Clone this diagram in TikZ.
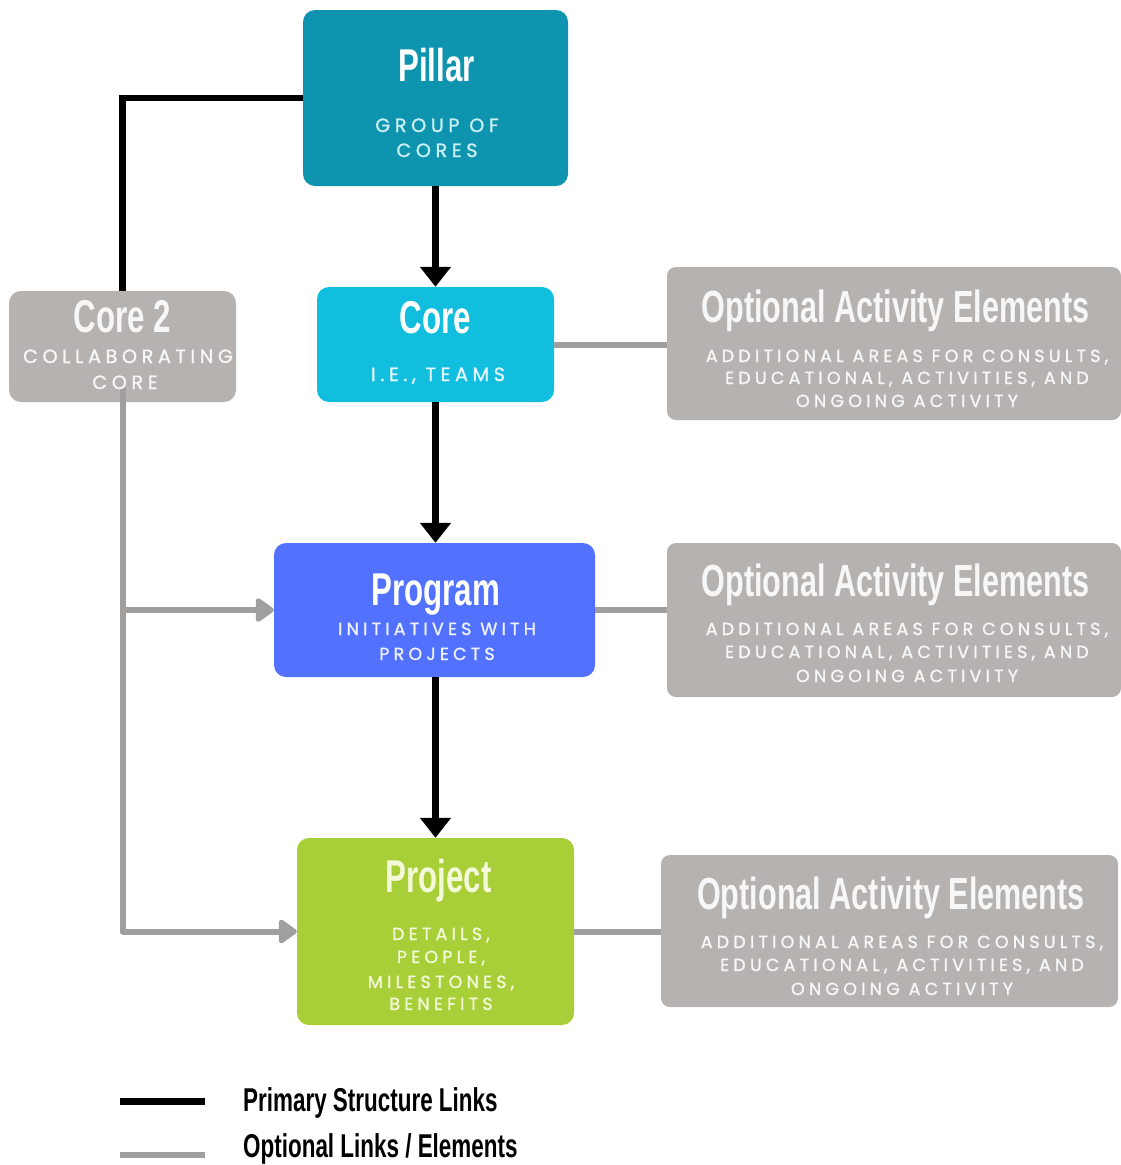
\documentclass[tikz,border=0pt]{standalone}
\usepackage{fontspec}
\usetikzlibrary{arrows.meta}
\newfontfamily\condfont{Liberation Sans}[FakeStretch=0.68]
\newfontfamily\capsfont{Poppins}[LetterSpace=24,FakeBold=1.2]
\definecolor{pillarc}{HTML}{0F94AF}
\definecolor{corec}{HTML}{12BEDD}
\definecolor{progc}{HTML}{5271FF}
\definecolor{projc}{HTML}{A8CE38}
\definecolor{boxgray}{HTML}{B5B2B0}
\definecolor{linegray}{HTML}{A19F9E}
\definecolor{pillsub}{HTML}{C9F0F3}
\definecolor{coresub}{HTML}{E2F9FF}
\definecolor{progsub}{HTML}{EEF1FF}
\definecolor{projtxt}{HTML}{F4FAD9}
\definecolor{graytxt}{HTML}{F7F7F7}
\begin{document}
\begin{tikzpicture}[x=1pt,y=-1pt,
  box/.style={rounded corners=12pt, inner sep=0pt, draw=none},
  obox/.style={box, fill=boxgray, rounded corners=9pt, minimum height=153pt},
  ttl/.style={font=\condfont\bfseries\fontsize{46}{46}\selectfont, text=white, anchor=base, inner sep=0pt},
  ottl/.style={font=\condfont\bfseries\fontsize{45}{45}\selectfont, text=graytxt, anchor=base, inner sep=0pt},
  leg/.style={font=\condfont\bfseries\fontsize{33}{33}\selectfont, text=black, anchor=base west, inner sep=0pt},
  subl/.style={font=\capsfont\fontsize{19.2}{19.2}\selectfont, anchor=base, inner sep=0pt},
  subs/.style={font=\capsfont\fontsize{17.5}{17.5}\selectfont, anchor=base, inner sep=0pt},
  prim/.style={line width=6.5pt, draw=black},
  primarrow/.style={prim, -{Triangle[length=20pt,width=30pt]}},
  optl/.style={line width=6pt, draw=linegray, line join=round},
  optarrow/.style={optl, -{Triangle[length=20pt,width=27pt,round]}}
]
\useasboundingbox (0,0) rectangle (1121,1165);
\fill[white] (0,0) rectangle (1121,1165);

% boxes
\node[box, fill=pillarc, minimum width=265pt, minimum height=176pt] (pillar) at (435.5,98) {};
\node[box, fill=corec, minimum width=237pt, minimum height=115pt] (core) at (435.5,344.5) {};
\node[box, fill=boxgray, minimum width=227pt, minimum height=111pt] (core2) at (122.5,346.5) {};
\node[box, fill=progc, minimum width=321pt, minimum height=134pt] (program) at (434.5,610) {};
\node[box, fill=projc, minimum width=277pt, minimum height=187pt] (project) at (435.5,931.5) {};
\node[obox, minimum width=454pt] (opt1) at (894,343.5) {};
\node[obox, minimum width=454pt, minimum height=154pt] (opt2) at (894,620) {};
\node[obox, minimum width=457pt, minimum height=152pt] (opt3) at (889.5,931) {};

% primary connectors
\draw[prim] (pillar.west) -| (core2.north);
\draw[primarrow] (pillar.south) -- (core.north);
\draw[primarrow] (core.south) -- (core.south |- program.north);
\draw[primarrow] (project.north |- program.south) -- (project.north);

% optional connectors
\coordinate (c2s) at ([yshift=14pt]core2.south);
\coordinate (j1) at (core2.south |- program.west);
\coordinate (j2) at (core2.south |- project.west);
\draw[optarrow] (c2s) -- (j2) -- (project.west);
\draw[optarrow] (j1) -- (program.west);
\draw[optl] (core.east) -- (core.east -| opt1.west);
\draw[optl] (program.east) -- (program.east -| opt2.west);
\draw[optl] (project.east) -- (project.east -| opt3.west);

% titles
\node[ttl] (tpillar) at (436.5,81) {Pillar};
\node[ttl] (tcore) at (435.5,333) {Core};
\node[ttl, text=graytxt] (tcore2) at (122.5,332) {Core 2};
\node[ttl] (tprog) at (435.5,605) {Program};
\node[ttl, text=projtxt] (tproj) at (438.5,892) {Project};
\node[ottl] (topt1) at (895.5,322) {Optional Activity Elements};
\node[ottl] (topt2) at (895.5,596) {Optional Activity Elements};
\node[ottl] (topt3) at (891,909) {Optional Activity Elements};

% subtitles
\node[subl, text=pillsub] (sp1) at (437,132) {GROUP OF};
\node[subl, text=pillsub] (sp2) at (437,157) {CORES};
\node[subl, text=coresub] (sc1) at (438,381) {I.E., TEAMS};
\node[subl, text=graytxt] (sc21) at (128,363) {COLLABORATING};
\node[subl, text=graytxt] (sc22) at (125,389) {CORE};
\node[subs, text=progsub] (spr1) at (437,635) {INITIATIVES WITH};
\node[subs, text=progsub] (spr2) at (437,660) {PROJECTS};
\node[subs, text=projtxt] (spj1) at (441,940) {DETAILS,};
\node[subs, text=projtxt] (spj2) at (441,963) {PEOPLE,};
\node[subs, text=projtxt] (spj3) at (441,988) {MILESTONES,};
\node[subs, text=projtxt] (spj4) at (441,1010) {BENEFITS};
\foreach \n/\x/\ya/\yb/\yc in {a/907/362/384/407, b/907/635/658/682, c/902/948/971/995}{
  \node[subs, text=graytxt] (o\n1) at (\x,\ya) {ADDITIONAL AREAS FOR CONSULTS,};
  \node[subs, text=graytxt] (o\n2) at (\x,\yb) {EDUCATIONAL, ACTIVITIES, AND};
  \node[subs, text=graytxt] (o\n3) at (\x,\yc) {ONGOING ACTIVITY};
}

% legend
\coordinate (la1) at (120,1101.5);
\coordinate (lb1) at (205,1101.5);
\coordinate (la2) at (120,1155);
\coordinate (lb2) at (205,1155);
\draw[prim] (la1) -- (lb1);
\draw[optl] (la2) -- (lb2);
\node[leg] (leg1) at (243,1111) {Primary Structure Links};
\node[leg] (leg2) at (243,1157) {Optional Links / Elements};
\end{tikzpicture}
\end{document}
